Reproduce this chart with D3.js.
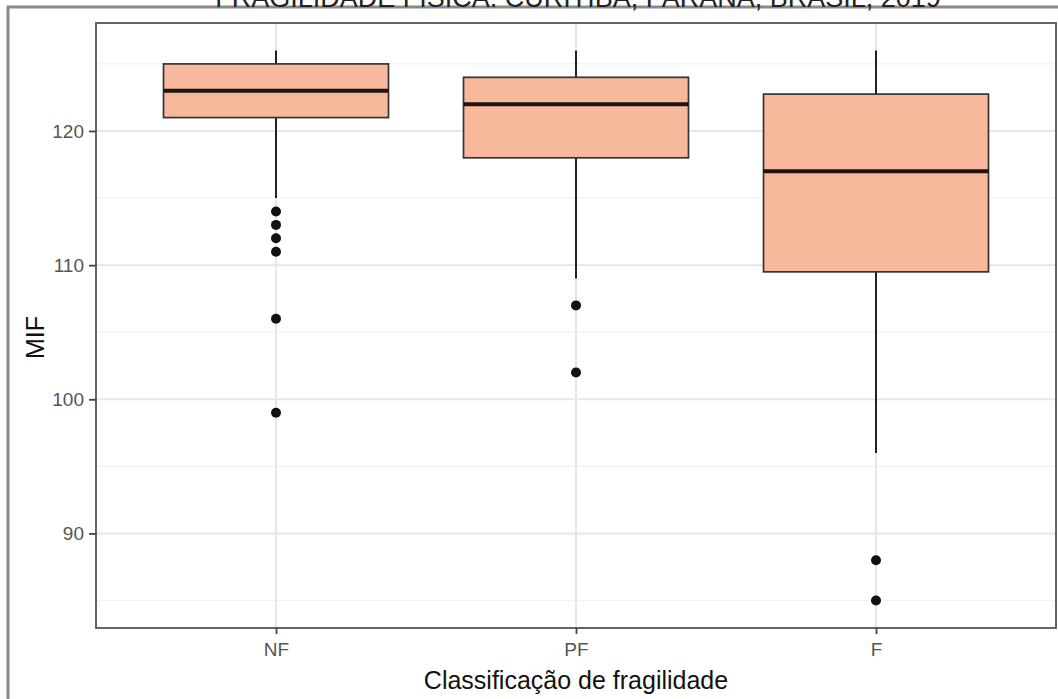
<!DOCTYPE html>
<html>
<head>
<meta charset="utf-8">
<script src="https://cdn.jsdelivr.net/npm/d3@7"></script>
<style>
  html, body { margin: 0; padding: 0; background: #fff; }
  svg { display: block; font-family: "Liberation Sans", Arial, sans-serif; }
</style>
</head>
<body>
<svg id="chart" width="1058" height="699"></svg>
<script>
// Frailty groups and MIF (functional independence) summaries per group
const categories = ["NF", "PF", "F"];
const whiskerHigh = [126, 126, 126];
const q3Values = [125, 124, 122.75];
const medians = [123, 122, 117];
const q1Values = [121, 118, 109.5];
const whiskerLow = [115, 109, 96];
const outliers = [
  [114, 113, 112, 111, 106, 99],
  [107, 102],
  [88, 85]
];
const yTicks = [90, 100, 110, 120];
const yMinor = [85, 95, 105, 115, 125];

const titleText = "FRAGILIDADE FÍSICA. CURITIBA, PARANÁ, BRASIL, 2019";
const xTitle = "Classificação de fragilidade";
const yTitle = "MIF";

const svg = d3.select("#chart");
const panel = { left: 96, right: 1056, top: 23, bottom: 628 };

// Outer frame (only top and left edges fall inside the canvas)
svg.append("path")
  .attr("d", `M8,${699 + 5} L8,7 L${1058 + 5},7`)
  .attr("fill", "none").attr("stroke", "#8a8a8a").attr("stroke-width", 3);

// Title, partly clipped by the top edge
svg.append("text")
  .attr("x", 578).attr("y", 7)
  .attr("text-anchor", "middle")
  .attr("font-size", 27)
  .attr("fill", "#222")
  .text(titleText);

// Scales: continuous y with 5% padding, discrete x with 0.6 unit padding
const allVals = whiskerHigh.concat(whiskerLow, outliers.flat());
const lo = d3.min(allVals), hi = d3.max(allVals);
const pad = (hi - lo) * 0.05;
const y = d3.scaleLinear().domain([lo - pad, hi + pad]).range([panel.bottom, panel.top]);
const x = d3.scalePoint().domain(categories)
  .range([panel.left, panel.right]).padding(0.6);
const unit = x.step();
const boxW = unit * 0.75;

// Grid
const grid = svg.append("g");
grid.selectAll("line.minor").data(yMinor).join("line")
  .attr("x1", panel.left).attr("x2", panel.right)
  .attr("y1", d => y(d)).attr("y2", d => y(d))
  .attr("stroke", "#f2f2f2").attr("stroke-width", 1.2);
grid.selectAll("line.major").data(yTicks).join("line")
  .attr("x1", panel.left).attr("x2", panel.right)
  .attr("y1", d => y(d)).attr("y2", d => y(d))
  .attr("stroke", "#e6e6e6").attr("stroke-width", 2);
grid.selectAll("line.vx").data(categories).join("line")
  .attr("x1", d => x(d)).attr("x2", d => x(d))
  .attr("y1", panel.top).attr("y2", panel.bottom)
  .attr("stroke", "#e6e6e6").attr("stroke-width", 2);

// Boxes
const data = categories.map((c, i) => ({
  c, hiW: whiskerHigh[i], q3: q3Values[i], med: medians[i],
  q1: q1Values[i], loW: whiskerLow[i], out: outliers[i]
}));
const g = svg.append("g");
g.selectAll("line.wu").data(data).join("line")
  .attr("x1", d => x(d.c)).attr("x2", d => x(d.c))
  .attr("y1", d => y(d.hiW)).attr("y2", d => y(d.q3))
  .attr("stroke", "#222").attr("stroke-width", 2);
g.selectAll("line.wl").data(data).join("line")
  .attr("x1", d => x(d.c)).attr("x2", d => x(d.c))
  .attr("y1", d => y(d.q1)).attr("y2", d => y(d.loW))
  .attr("stroke", "#222").attr("stroke-width", 2);
g.selectAll("rect").data(data).join("rect")
  .attr("x", d => x(d.c) - boxW / 2).attr("width", boxW)
  .attr("y", d => y(d.q3)).attr("height", d => y(d.q1) - y(d.q3))
  .attr("fill", "#f8b89c").attr("stroke", "#333").attr("stroke-width", 1.7);
g.selectAll("line.med").data(data).join("line")
  .attr("x1", d => x(d.c) - boxW / 2).attr("x2", d => x(d.c) + boxW / 2)
  .attr("y1", d => y(d.med)).attr("y2", d => y(d.med))
  .attr("stroke", "#1e1410").attr("stroke-width", 4);
data.forEach(d => {
  g.selectAll(null).data(d.out).join("circle")
    .attr("cx", x(d.c)).attr("cy", v => y(v)).attr("r", 5)
    .attr("fill", "#111");
});

// Panel border
svg.append("rect")
  .attr("x", panel.left).attr("y", panel.top)
  .attr("width", panel.right - panel.left).attr("height", panel.bottom - panel.top)
  .attr("fill", "none").attr("stroke", "#555").attr("stroke-width", 1.8);

// Axes
const yAxis = svg.append("g").attr("transform", `translate(${panel.left},0)`)
  .call(d3.axisLeft(y).tickValues(yTicks).tickSize(7).tickPadding(5));
const xAxis = svg.append("g").attr("transform", `translate(0,${panel.bottom})`)
  .call(d3.axisBottom(x).tickSize(6).tickPadding(9));
[yAxis, xAxis].forEach(a => {
  a.attr("font-size", 19).attr("font-family", "Liberation Sans, Arial, sans-serif");
  a.select(".domain").remove();
  a.selectAll(".tick line").attr("stroke", "#444").attr("stroke-width", 1.8);
  a.selectAll(".tick text").attr("fill", "#555");
});

// Axis titles
svg.append("text")
  .attr("x", (panel.left + panel.right) / 2).attr("y", 689)
  .attr("text-anchor", "middle").attr("font-size", 25).attr("fill", "#111")
  .text(xTitle);
svg.append("text")
  .attr("transform", `translate(44,${(panel.top + panel.bottom) / 2 + 12}) rotate(-90)`)
  .attr("text-anchor", "middle").attr("font-size", 25).attr("fill", "#111")
  .text(yTitle);
</script>
</body>
</html>
